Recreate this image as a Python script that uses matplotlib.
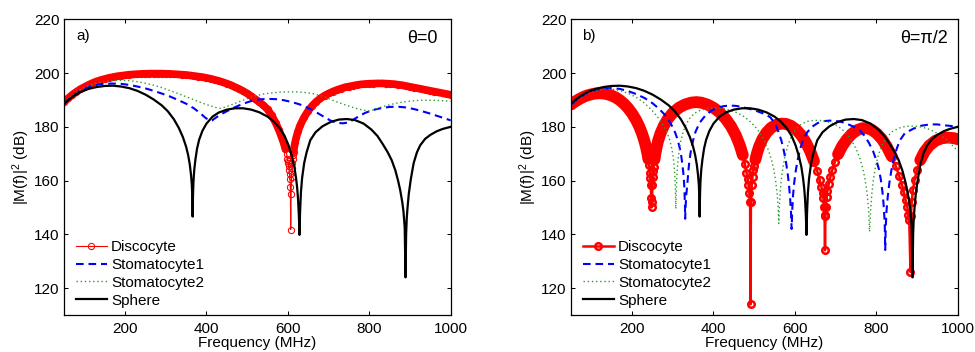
import numpy as np
import matplotlib
matplotlib.use('Agg')
import matplotlib.pyplot as plt

plt.rcParams['font.family'] = ['Liberation Sans', 'DejaVu Sans']
plt.rcParams['mathtext.fontset'] = 'custom'
plt.rcParams['mathtext.rm'] = 'Liberation Sans'
plt.rcParams['mathtext.it'] = 'Liberation Sans:italic'
plt.rcParams['lines.scale_dashes'] = False

series_names = ['Discocyte', 'Stomatocyte1', 'Stomatocyte2', 'Sphere']
x_ticks = [200, 400, 600, 800, 1000]
y_ticks = [120, 140, 160, 180, 200, 220]

# ---- Sphere (same in both panels) ----
f_sphere = [50, 60, 75, 90, 110, 130, 150, 170, 190, 210, 230, 250, 270, 290, 305, 320, 332, 342, 350, 355,
            359, 362, 364, 365, 366, 367, 368, 370, 373, 377, 382, 390, 400, 415, 430, 450, 470, 490, 510, 530,
            550, 565, 580, 592, 602, 610, 616, 620, 623, 625, 627, 628.5, 630, 632, 635, 640, 646, 655, 668, 685,
            705, 725, 745, 765, 786, 805, 820, 833, 845, 855, 864, 871, 876, 881, 884, 887, 889, 890.5, 892, 894,
            897, 902, 909, 917, 925, 937, 950, 965, 980, 1000]
db_sphere = [188.5, 189.9, 191.6, 192.9, 194.1, 194.8, 195.2, 195.3, 195.0, 194.4, 193.4, 192.0, 190.2, 188.0, 185.8, 182.8, 179.6, 176.2, 172.6, 169.5,
             166.0, 162.2, 158.5, 155.0, 146.6, 155.0, 159.5, 164.0, 168.0, 172.0, 175.2, 178.5, 181.2, 183.8, 185.3, 186.4, 186.9, 186.9, 186.4, 185.4,
             183.8, 182.0, 179.5, 176.6, 173.0, 169.0, 165.0, 161.0, 157.0, 153.0, 147.0, 139.8, 148.5, 155.5, 161.0, 166.5, 170.5, 175.0, 178.0, 180.2,
             181.8, 182.7, 182.9, 182.5, 181.2, 179.0, 176.6, 173.6, 170.6, 167.6, 163.8, 159.8, 156.4, 152.0, 148.5, 142.5, 124.0, 140.0, 146.0, 150.0,
             155.0, 160.5, 166.5, 170.5, 173.1, 175.5, 177.0, 178.3, 179.2, 180.0]

# ---- Panel a (theta = 0) ----
f_disc_a = [50, 60, 70, 80, 90, 100, 110, 120, 130, 140, 150, 160, 170, 180, 190, 200, 210, 220, 230, 240,
            250, 260, 270, 280, 290, 300, 310, 320, 330, 340, 350, 360, 370, 380, 390, 400, 410, 420, 430, 440,
            450, 460, 470, 480, 490, 500, 510, 520, 530, 540, 550, 560, 570, 578, 585, 590, 594, 597, 599, 600,
            601, 602, 603, 604, 605, 606, 607, 608, 609, 610, 611, 612, 613, 614, 616, 618, 621, 625, 630, 640,
            650, 660, 670, 680, 690, 700, 710, 720, 730, 740, 750, 760, 770, 780, 790, 800, 810, 820, 830, 840,
            850, 860, 870, 880, 890, 900, 910, 920, 930, 940, 950, 960, 970, 980, 990, 1000]
db_disc_a = [189.2, 190.6, 191.9, 193.0, 194.0, 194.8, 195.6, 196.3, 196.9, 197.4, 197.8, 198.2, 198.5, 198.8, 199.0, 199.2, 199.4, 199.5, 199.6, 199.7,
             199.75, 199.8, 199.8, 199.8, 199.8, 199.75, 199.7, 199.6, 199.5, 199.4, 199.3, 199.1, 198.9, 198.7, 198.5, 198.2, 197.9, 197.5, 197.1, 196.6,
             196.1, 195.5, 194.8, 194.1, 193.3, 192.4, 191.4, 190.3, 189.2, 188.0, 186.5, 184.3, 181.5, 178.8, 176.0, 173.8, 171.7, 169.8, 168.2, 167.3,
             166.4, 165.3, 164.0, 162.5, 160.5, 157.8, 141.8, 155.0, 161.5, 164.5, 166.5, 168.2, 169.6, 170.8, 172.8, 174.4, 176.3, 178.4, 180.5, 183.6,
             186.0, 187.9, 189.4, 190.6, 191.6, 192.4, 193.1, 193.7, 194.2, 194.7, 195.0, 195.3, 195.6, 195.8, 195.95, 196.05, 196.1, 196.15, 196.15, 196.1,
             196.0, 195.9, 195.7, 195.5, 195.2, 194.9, 194.6, 194.3, 194.0, 193.7, 193.4, 193.1, 192.8, 192.5, 192.2, 191.9]

f_stom1_a = [50, 70, 90, 110, 130, 150, 170, 190, 210, 230, 250, 270, 290, 310, 330, 350, 370, 385, 398, 408,
             414, 422, 435, 450, 470, 490, 510, 530, 550, 570, 590, 610, 630, 650, 670, 690, 705, 720, 735, 748,
             760, 775, 790, 810, 830, 850, 870, 890, 910, 930, 950, 970, 990, 1000]
db_stom1_a = [188.6, 191.5, 193.5, 194.8, 195.6, 196.0, 196.1, 196.0, 195.6, 195.0, 194.3, 193.4, 192.4, 191.3, 190.0, 188.6, 186.8, 185.0, 183.3, 182.3,
              182.4, 183.3, 184.6, 185.8, 187.3, 188.6, 189.6, 190.2, 190.4, 190.3, 189.9, 189.2, 188.3, 187.0, 185.4, 183.6, 182.3, 181.5, 181.3, 181.6,
              182.6, 184.0, 185.2, 186.3, 187.0, 187.4, 187.5, 187.2, 186.6, 185.8, 184.9, 183.9, 182.9, 182.4]

f_stom2_a = [50, 70, 90, 110, 130, 150, 170, 190, 210, 230, 250, 270, 290, 310, 330, 350, 370, 390, 410, 425,
             435, 445, 460, 480, 500, 520, 540, 560, 580, 600, 620, 640, 660, 680, 700, 720, 740, 760, 780, 795,
             805, 815, 830, 850, 870, 890, 910, 930, 950, 970, 990, 1000]
db_stom2_a = [188.6, 191.6, 193.8, 195.3, 196.3, 196.9, 197.2, 197.3, 197.2, 196.8, 196.2, 195.5, 194.6, 193.5, 192.4, 191.2, 190.0, 188.8, 187.8, 187.1,
              186.9, 187.3, 188.1, 189.3, 190.5, 191.5, 192.2, 192.6, 192.9, 193.0, 193.0, 192.8, 192.4, 191.6, 190.5, 189.3, 188.2, 187.2, 186.4, 185.9,
              186.0, 186.6, 187.4, 188.2, 188.9, 189.4, 189.7, 189.9, 189.9, 189.8, 189.6, 189.5]

# ---- Panel b (theta = pi/2) ----
f_disc_b = [50, 60, 70, 80, 90, 100, 110, 120, 130, 140, 150, 160, 170, 180, 190, 200, 210, 218, 225, 231,
            235, 238, 240, 242, 244, 245, 246, 247, 248, 249, 250, 251, 252, 253, 255, 257, 260, 264, 270, 278,
            288, 300, 315, 330, 345, 358, 370, 385, 400, 415, 430, 443, 455, 465, 472, 477, 481, 484, 486, 488,
            490, 491, 492, 494, 496, 498, 500, 503, 507, 512, 520, 530, 542, 555, 567, 578, 590, 603, 615, 627,
            638, 647, 655, 661, 665, 668, 670, 672, 673, 674, 675, 676, 678, 680, 683, 687, 692, 698, 706, 716,
            728, 740, 753, 766, 778, 790, 802, 814, 826, 838, 848, 856, 863, 868, 872, 876, 879, 881, 884, 885,
            887, 890, 894, 900, 908, 918, 930, 945, 960, 975, 990, 1000]
db_disc_b = [188.3, 189.4, 190.3, 191.1, 191.7, 192.1, 192.4, 192.5, 192.4, 192.1, 191.6, 190.9, 189.9, 188.6, 187.0, 185.0, 182.5, 180.0, 177.3, 174.4,
             172.0, 169.8, 168.0, 165.8, 162.8, 160.9, 158.3, 153.5, 150.0, 152.0, 158.5, 161.5, 163.6, 165.2, 167.8, 169.8, 172.2, 174.8, 177.6, 180.4,
             183.0, 185.2, 187.1, 188.3, 189.0, 189.2, 189.0, 188.3, 187.1, 185.4, 183.0, 180.2, 176.8, 173.0, 169.5, 166.3, 163.0, 160.7, 158.5, 155.5,
             152.0, 114.0, 152.2, 158.2, 161.5, 163.8, 165.6, 167.8, 170.2, 172.6, 175.4, 177.8, 179.7, 180.8, 181.2, 181.1, 180.4, 179.0, 177.0, 174.2,
             170.8, 167.2, 163.5, 160.2, 157.8, 155.5, 153.5, 150.2, 147.1, 134.1, 146.8, 150.3, 154.0, 156.2, 158.6, 161.2, 164.0, 166.8, 169.8, 172.8,
             175.4, 177.4, 178.8, 179.5, 179.5, 178.8, 177.4, 175.4, 172.6, 169.0, 165.4, 161.8, 158.5, 155.6, 152.7, 150.3, 147.1, 145.2, 126.0, 146.8,
             152.0, 156.5, 160.2, 164.0, 167.6, 170.6, 173.0, 174.8, 175.7, 176.0, 175.8, 175.4]

f_stom1_b = [50, 70, 90, 110, 130, 150, 170, 190, 210, 232, 250, 265, 281, 292, 300, 306, 312, 317, 321, 324,
             326.5, 328.5, 330, 330.5, 331.5, 333, 335.5, 338, 341, 345, 350, 356, 366, 380, 395, 410, 425, 440, 455, 470,
             485, 500, 515, 528, 540, 552, 560, 567, 573, 578, 582, 585.5, 588.5, 590.5, 592, 593.5, 595.5, 598, 602, 607,
             613, 620, 630, 642, 656, 670, 685, 700, 715, 730, 745, 760, 772, 782, 792, 800, 806, 811, 815, 818,
             820, 821, 822, 823, 825, 828, 832, 837, 842, 850, 858, 870, 891, 910, 932, 950, 965, 985, 1000]
db_stom1_b = [188.3, 190.8, 192.6, 193.7, 194.3, 194.4, 194.1, 193.3, 192.2, 190.6, 188.8, 186.9, 184.4, 182.0, 179.8, 177.8, 175.2, 172.2, 169.0, 165.5,
              162.0, 157.5, 150.5, 145.8, 150.0, 154.5, 158.0, 163.0, 167.5, 171.5, 175.0, 178.2, 181.5, 184.2, 186.0, 187.1, 187.7, 187.9, 187.8, 187.4,
              186.8, 186.2, 185.4, 184.6, 183.5, 181.0, 178.0, 174.8, 171.0, 167.0, 163.0, 158.5, 153.0, 148.0, 142.0, 149.0, 154.5, 158.8, 163.5, 167.8,
              171.8, 175.0, 177.9, 180.0, 181.4, 182.1, 182.3, 182.2, 181.8, 181.0, 180.0, 178.6, 176.5, 174.0, 171.0, 167.6, 164.5, 160.5, 156.0, 151.0,
              146.0, 142.5, 134.2, 142.0, 148.5, 153.8, 159.0, 163.8, 167.5, 171.8, 175.0, 177.6, 179.3, 180.4, 180.9, 180.9, 180.6, 180.3, 180.0]

f_stom2_b = [50, 70, 90, 110, 130, 150, 170, 190, 210, 230, 248, 262, 274, 284, 291, 296, 300, 303, 305, 306.5,
             307.5, 308.5, 310, 312, 315, 319, 325, 333, 343, 355, 370, 385, 400, 415, 430, 445, 460, 475, 490, 505,
             517, 527, 535, 542, 548, 553, 556.5, 559, 560.5, 562, 564, 567, 571, 576, 583, 592, 603, 616, 630, 645,
             660, 675, 690, 705, 718, 730, 741, 751, 759, 766, 772, 777, 781, 783.5, 786, 789, 793, 798, 805, 814,
             825, 840, 855, 870, 885, 900, 915, 930, 945, 960, 975, 990, 1000]
db_stom2_b = [188.3, 190.7, 192.4, 193.5, 194.0, 194.0, 193.5, 192.5, 191.0, 188.9, 186.3, 183.8, 181.2, 178.5, 175.8, 173.0, 170.0, 166.3, 162.0, 157.0,
              149.5, 155.5, 161.5, 166.0, 170.3, 174.2, 177.9, 181.0, 183.5, 185.2, 186.3, 186.8, 187.0, 186.9, 186.6, 186.0, 185.1, 183.8, 182.0, 179.6,
              177.0, 174.2, 171.3, 168.0, 164.2, 159.6, 155.0, 150.0, 144.0, 151.0, 156.0, 160.8, 165.2, 169.3, 173.2, 176.7, 179.3, 181.0, 182.0, 182.4,
              182.4, 182.1, 181.4, 180.3, 178.8, 176.8, 174.4, 171.6, 168.6, 165.0, 160.8, 155.8, 149.5, 141.0, 149.0, 155.0, 160.5, 165.2, 169.5, 173.2,
              176.0, 178.3, 179.5, 180.1, 180.3, 180.2, 179.8, 179.1, 178.0, 176.6, 174.9, 172.6, 171.0]

fig = plt.figure(figsize=(9.75, 3.52), dpi=100)
ax_a = fig.add_axes([64 / 975, 37 / 352, 386.7 / 975, 295.7 / 352])
ax_b = fig.add_axes([571 / 975, 37 / 352, 386.7 / 975, 295.7 / 352])

GREEN = '#2f9a2f'


def draw_panel(ax, fd, yd, f1, y1, f2, y2, band_lw, cutoff, disc_lw, ms, mew):
    yd = np.asarray(yd, dtype=float)
    band = np.where(yd >= cutoff, yd, np.nan)
    ax.plot(fd, band, color='red', lw=band_lw, solid_capstyle='round', label='_nolegend_', zorder=2)
    ax.plot(fd, yd, color='red', lw=disc_lw, marker='o', ms=ms, mew=mew, mfc='none', mec='red',
            label=series_names[0], zorder=2)
    ax.plot(f1, y1, color='blue', lw=1.5, dashes=(5.5, 3.5), label=series_names[1], zorder=3)
    ax.plot(f2, y2, color=GREEN, lw=1.0, dashes=(1.0, 2.0), label=series_names[2], zorder=3)
    ax.plot(f_sphere, db_sphere, color='black', lw=1.6, label=series_names[3], zorder=4)
    ax.set_xlim(50, 1000)
    ax.set_ylim(110, 220)
    ax.set_xticks(x_ticks)
    ax.set_yticks(y_ticks)
    ax.tick_params(direction='in', top=True, right=True, length=3, width=0.75, labelsize=11)
    ax.tick_params(axis='x', pad=5)
    ax.tick_params(axis='y', pad=3)
    for s in ax.spines.values():
        s.set_linewidth(0.9)
    ax.set_xlabel('Frequency (MHz)', fontsize=11)
    ax.xaxis.set_label_coords(0.5, -0.072)
    ax.set_ylabel('|M(f)|$^{2}$ (dB)', fontsize=11)
    ax.yaxis.set_label_coords(-0.083, 0.5)
    leg = ax.legend(loc='lower left', bbox_to_anchor=(0.03, 0.025), frameon=False, fontsize=11,
                    handlelength=2.07, handletextpad=0.25, labelspacing=0.25, borderpad=0, borderaxespad=0)
    return leg


draw_panel(ax_a, f_disc_a, db_disc_a, f_stom1_a, db_stom1_a, f_stom2_a, db_stom2_a,
           band_lw=5.5, cutoff=170.0, disc_lw=0.8, ms=4.5, mew=0.75)
draw_panel(ax_b, f_disc_b, db_disc_b, f_stom1_b, db_stom1_b, f_stom2_b, db_stom2_b,
           band_lw=8.5, cutoff=167.0, disc_lw=1.8, ms=4.7, mew=1.8)

ax_a.text(0.031, 0.966, 'a)', transform=ax_a.transAxes, ha='left', va='top', fontsize=11)
ax_a.text(0.965, 0.935, 'θ=0', transform=ax_a.transAxes, ha='right', va='center', fontsize=13)
ax_b.text(0.029, 0.966, 'b)', transform=ax_b.transAxes, ha='left', va='top', fontsize=11)
ax_b.text(0.975, 0.935, 'θ=π/2', transform=ax_b.transAxes, ha='right', va='center', fontsize=13)

fig.savefig('out.png', dpi=100)
